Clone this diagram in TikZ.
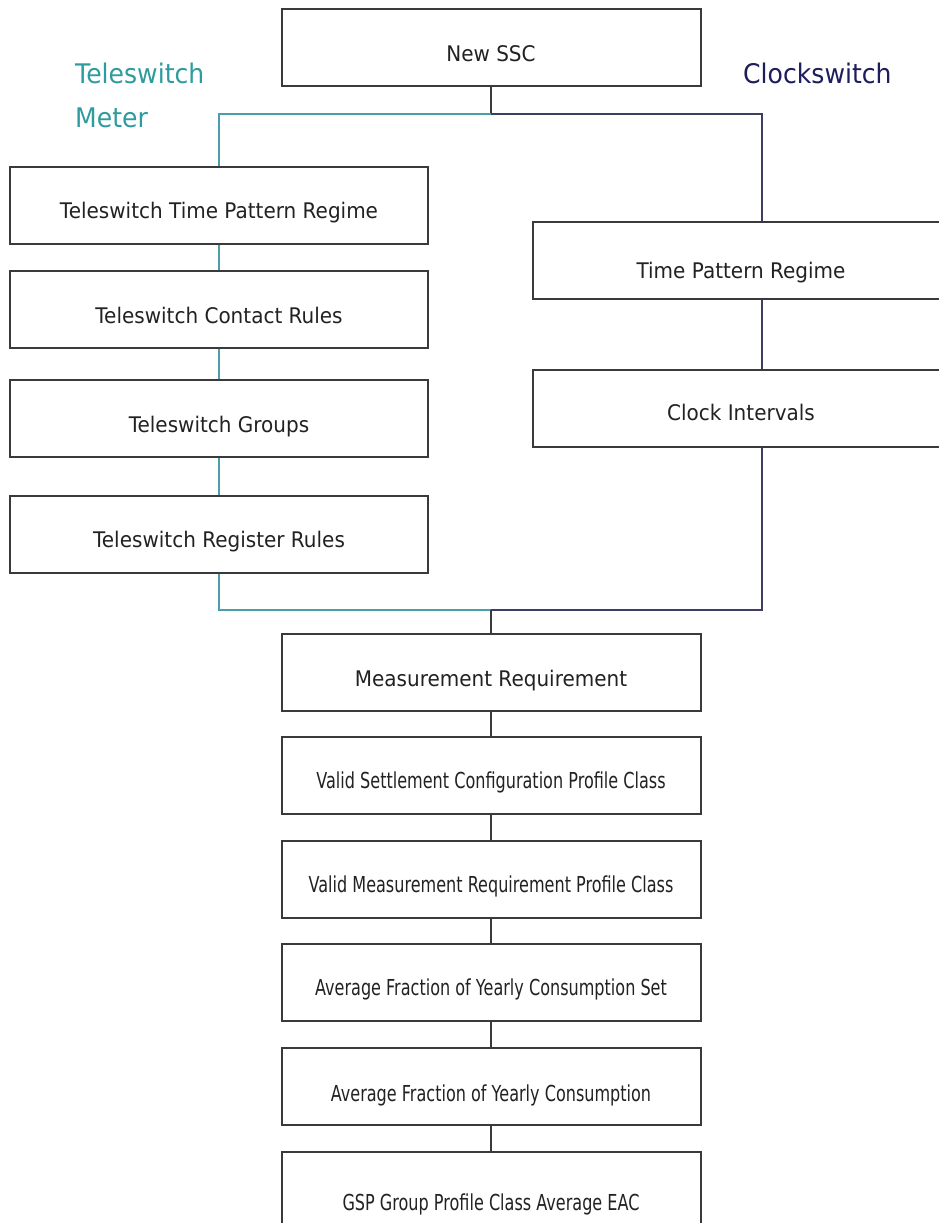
\documentclass[tikz,border=0pt]{standalone}
\usepackage{fontspec}
\setmainfont[FakeStretch=0.93]{DejaVu Sans}
\newfontfamily\condfont[FakeStretch=0.73]{DejaVu Sans}
\definecolor{tealline}{HTML}{4A9FAA}
\definecolor{tealtext}{HTML}{2E9C9E}
\definecolor{navyline}{HTML}{3E3E62}
\definecolor{navytext}{HTML}{1E1E5C}
\definecolor{boxline}{HTML}{3A3A3A}
\definecolor{boxtext}{HTML}{222222}
\tikzset{
  box/.style={draw=boxline, line width=2pt, fill=white, inner sep=0pt,
    minimum width=419pt, minimum height=77pt, font=\fontsize{21.5}{24}\selectfont,
    text=boxtext, anchor=center, text height=27.7pt, text depth=0pt},
  condbox/.style={box, font=\condfont\fontsize{22}{24}\selectfont},
  tealconn/.style={draw=tealline, line width=1.6pt},
  navyconn/.style={draw=navyline, line width=1.6pt},
  grayconn/.style={draw=boxline, line width=1.6pt},
  sidelabel/.style={font=\fontsize{27}{30}\selectfont, anchor=west, inner sep=0pt}
}
\begin{document}
\begin{tikzpicture}[x=1pt,y=-1pt]
\useasboundingbox[fill=white] (0,0) rectangle (939,1223);
% junction coordinates
\coordinate (jt) at (491,114);
\coordinate (jb) at (491,610);
\coordinate (tr) at (762,114);
% boxes
\node[box] (ssc) at (491,47.5) {New SSC};
\node[box, minimum width=418pt] (ttpr) at (219,205) {Teleswitch Time Pattern Regime};
\node[box, minimum width=418pt] (tcr) at (219,309.5) {Teleswitch Contact Rules};
\node[box, minimum width=418pt] (tg) at (219,418.5) {Teleswitch Groups};
\node[box, minimum width=418pt] (trr) at (219,534) {Teleswitch Register Rules};
\node[box, minimum width=416pt, text height=37.7pt] (tpr) at (741,260) {Time Pattern Regime};
\node[box, minimum width=416pt, text height=23.7pt] (ci) at (741,408.5) {Clock Intervals};
\node[box] (mr) at (491,672.5) {Measurement Requirement};
\node[condbox] (vscpc) at (491,775) {Valid Settlement Configuration Profile Class};
\node[condbox] (vmrpc) at (491,879) {Valid Measurement Requirement Profile Class};
\node[condbox] (afycs) at (491,982) {Average Fraction of Yearly Consumption Set};
\node[condbox, text height=30.7pt] (afyc) at (491,1086.5) {Average Fraction of Yearly Consumption};
\node[condbox, text height=39.7pt] (gsp) at (491,1190.5) {GSP Group Profile Class Average EAC};
% side labels
\node[sidelabel, text=tealtext] (tsw) at (75,73) {Teleswitch};
\node[sidelabel, text=tealtext] (met) at (75,118) {Meter};
\node[sidelabel, text=navytext] (csw) at (743,73) {Clockswitch};
% top split
\draw[grayconn] (ssc.south) -- (jt);
\draw[tealconn] (jt) -| (ttpr.north);
\draw[navyconn] (jt) -| (tpr.north -| tr);
% teleswitch chain
\draw[tealconn] (ttpr) -- (tcr);
\draw[tealconn] (tcr) -- (tg);
\draw[tealconn] (tg) -- (trr);
\draw[tealconn] (trr.south) |- (jb);
% clockswitch chain
\draw[navyconn] (tpr.south -| tr) -- (ci.north -| tr);
\draw[navyconn] (ci.south -| tr) |- (jb);
% lower chain
\draw[grayconn] (jb) -- (mr.north);
\draw[grayconn] (mr) -- (vscpc);
\draw[grayconn] (vscpc) -- (vmrpc);
\draw[grayconn] (vmrpc) -- (afycs);
\draw[grayconn] (afycs) -- (afyc);
\draw[grayconn] (afyc) -- (gsp);
\end{tikzpicture}
\end{document}
